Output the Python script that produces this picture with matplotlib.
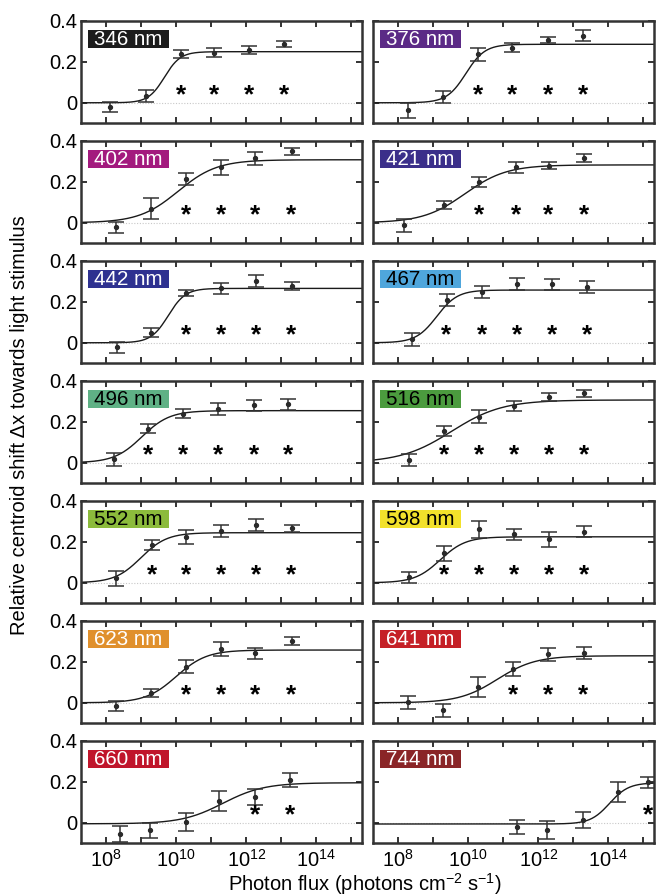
import numpy as np
import matplotlib
matplotlib.use('Agg')
import matplotlib.pyplot as plt
from matplotlib.ticker import FixedLocator, FuncFormatter
from matplotlib.patches import Rectangle

plt.rcParams['font.family'] = ['Liberation Sans', 'DejaVu Sans']
plt.rcParams['mathtext.fontset'] = 'custom'
plt.rcParams['mathtext.rm'] = 'Liberation Sans'
plt.rcParams['mathtext.it'] = 'Liberation Sans:italic'
plt.rcParams['mathtext.bf'] = 'Liberation Sans:bold'

# panels in reading order (row by row, left then right)
wavelengths = ['346 nm', '376 nm', '402 nm', '421 nm', '442 nm', '467 nm', '496 nm',
               '516 nm', '552 nm', '598 nm', '623 nm', '641 nm', '660 nm', '744 nm']
box_colors = ['#1c1c1c', '#5b2a86', '#a31a7e', '#3b2f8a', '#2e3190', '#4fa6dc', '#5fb185',
              '#4b9b3e', '#8cbb3c', '#f2e12b', '#e0902c', '#c52026', '#c0152b', '#8a2527']
label_colors = ['white', 'white', 'white', 'white', 'white', 'black', 'black',
                'black', 'black', 'black', 'white', 'white', 'white', 'white']

# photon flux as log10(photons cm-2 s-1)
log_flux = [
    [8.11, 9.13, 10.14, 11.09, 12.08, 13.08],
    [8.27, 9.27, 10.27, 11.26, 12.27, 13.27],
    [8.28, 9.28, 10.28, 11.27, 12.26, 13.29],
    [8.16, 9.30, 10.30, 11.35, 12.29, 13.30],
    [8.30, 9.28, 10.28, 11.28, 12.27, 13.29],
    [8.38, 9.38, 10.40, 11.40, 12.40, 13.40],
    [8.21, 9.20, 10.18, 11.20, 12.21, 13.19],
    [8.30, 9.30, 10.30, 11.30, 12.30, 13.31],
    [8.28, 9.30, 10.28, 11.28, 12.27, 13.29],
    [8.30, 9.30, 10.30, 11.30, 12.30, 13.30],
    [8.28, 9.27, 10.28, 11.27, 12.26, 13.29],
    [8.27, 9.27, 10.27, 11.27, 12.27, 13.29],
    [8.38, 9.25, 10.27, 11.23, 12.24, 13.24],
    [11.38, 12.26, 13.27, 14.26, 15.14],
]
shift = [
    [-0.022, 0.034, 0.237, 0.244, 0.257, 0.286],
    [-0.036, 0.029, 0.237, 0.268, 0.306, 0.327],
    [-0.021, 0.069, 0.213, 0.270, 0.315, 0.348],
    [-0.013, 0.087, 0.200, 0.270, 0.279, 0.315],
    [-0.023, 0.050, 0.244, 0.265, 0.302, 0.276],
    [0.016, 0.208, 0.249, 0.286, 0.285, 0.273],
    [0.016, 0.167, 0.240, 0.262, 0.280, 0.286],
    [0.013, 0.154, 0.224, 0.278, 0.319, 0.338],
    [0.021, 0.183, 0.224, 0.252, 0.280, 0.265],
    [0.026, 0.143, 0.260, 0.236, 0.211, 0.249],
    [-0.015, 0.049, 0.176, 0.262, 0.241, 0.301],
    [0.002, -0.036, 0.078, 0.163, 0.237, 0.241],
    [-0.055, -0.036, 0.005, 0.106, 0.126, 0.208],
    [-0.020, -0.036, 0.013, 0.148, 0.197],
]
shift_err = [
    [0.024, 0.030, 0.018, 0.022, 0.020, 0.014],
    [0.037, 0.030, 0.032, 0.022, 0.016, 0.028],
    [0.027, 0.050, 0.030, 0.037, 0.032, 0.016],
    [0.030, 0.019, 0.025, 0.027, 0.016, 0.020],
    [0.025, 0.024, 0.014, 0.028, 0.030, 0.019],
    [0.033, 0.028, 0.029, 0.028, 0.028, 0.028],
    [0.034, 0.020, 0.024, 0.029, 0.028, 0.027],
    [0.030, 0.025, 0.031, 0.024, 0.020, 0.016],
    [0.037, 0.024, 0.034, 0.030, 0.030, 0.016],
    [0.028, 0.037, 0.040, 0.028, 0.036, 0.027],
    [0.024, 0.020, 0.033, 0.035, 0.026, 0.018],
    [0.032, 0.032, 0.050, 0.034, 0.031, 0.030],
    [0.039, 0.036, 0.045, 0.049, 0.041, 0.036],
    [0.033, 0.045, 0.038, 0.049, 0.026],
]
# index of the first significant point (asterisk from there on)
first_star = [2, 2, 2, 2, 2, 1, 1, 1, 1, 1, 2, 3, 4, 4]

# sigmoid fit parameters
fit_bottom = [0, 0, 0, 0, 0, 0, 0, 0, 0, 0, 0, 0, -0.005, -0.006]
fit_top = [0.249, 0.285, 0.307, 0.282, 0.265, 0.257, 0.254,
           0.306, 0.244, 0.224, 0.257, 0.229, 0.195, 0.195]
fit_mid = [9.66, 9.93, 10.05, 9.90, 9.77, 9.10, 9.02,
           9.52, 8.99, 9.20, 10.00, 10.83, 11.33, 14.03]
fit_slope = [1.9, 1.6, 0.78, 0.73, 1.77, 1.47, 1.1,
             0.6, 1.17, 1.2, 1.0, 0.8, 0.74, 1.6]

W, H = 658, 896
fig = plt.figure(figsize=(W / 100, H / 100), dpi=100)

x_lo, x_hi = 10 ** 7.28, 10 ** 15.3
xs = np.linspace(7.28, 15.3, 400)
spine_col = '#333333'


def flux_label(v, pos):
    k = int(round(np.log10(v)))
    if k % 2 == 0 and k < 15:
        return r'$10^{%d}$' % k
    return ''


for i, name in enumerate(wavelengths):
    row, col = divmod(i, 2)
    left = 81 if col == 0 else 373
    top = 20.7 + 120 * row
    ax = fig.add_axes([left / W, 1 - (top + 102.6) / H, 281 / W, 102.6 / H])

    ax.axhline(0, color='#c8c8c8', lw=0.8, ls=(0, (1, 1.5)), zorder=0)

    # fitted curve
    yfit = fit_bottom[i] + (fit_top[i] - fit_bottom[i]) / (1 + 10 ** (fit_slope[i] * (fit_mid[i] - xs)))
    ax.plot(10 ** xs, yfit, color='#1a1a1a', lw=1.0, zorder=2)

    fx = 10 ** np.array(log_flux[i])
    ax.errorbar(fx, shift[i], yerr=shift_err[i], fmt='o', ms=2.8, color='#2a2a2a',
                ecolor='#333333', elinewidth=1.1, capsize=5.5, capthick=1.1, zorder=3)

    for j in range(first_star[i], len(fx)):
        ax.text(fx[j], 0.004, '*', ha='center', va='baseline', fontsize=19,
                fontweight='bold', color='black', zorder=4)

    # wavelength label box
    ax.add_patch(Rectangle((0.025, 0.734), 0.287, 0.175, transform=ax.transAxes,
                           facecolor=box_colors[i], edgecolor='none', zorder=5))
    ax.text(0.168, 0.815, name, transform=ax.transAxes, ha='center', va='center',
            fontsize=14.8, color=label_colors[i], zorder=6)

    ax.set_xscale('log')
    ax.set_xlim(x_lo, x_hi)
    ax.set_ylim(-0.1, 0.4)
    ax.set_yticks([0, 0.2, 0.4])
    ax.xaxis.set_major_locator(FixedLocator([10.0 ** k for k in range(8, 16)]))
    ax.xaxis.set_minor_locator(FixedLocator([]))

    if row == 6:
        ax.xaxis.set_major_formatter(FuncFormatter(flux_label))
    else:
        ax.set_xticklabels([])
    if col == 0:
        ax.set_yticklabels(['0', '0.2', '0.4'])
    else:
        ax.set_yticklabels([])

    ax.tick_params(which='both', direction='in', top=True, right=True,
                   length=4, width=1.4, color=spine_col, labelsize=14.5)
    ax.tick_params(axis='y', pad=2.5)
    ax.tick_params(axis='x', pad=4)
    for s in ax.spines.values():
        s.set_linewidth(1.8)
        s.set_color(spine_col)

fig.text(20 / W, 1 - 425 / H, 'Relative centroid shift \u0394x towards light stimulus',
         rotation=90, ha='center', va='center', fontsize=14.5)
fig.text(365 / W, 1 - 884 / H, r'Photon flux (photons cm$^{\mathrm{-2}}$ s$^{\mathrm{-1}}$)',
         ha='center', va='center', fontsize=14.5)

fig.savefig('out.png', dpi=100)
